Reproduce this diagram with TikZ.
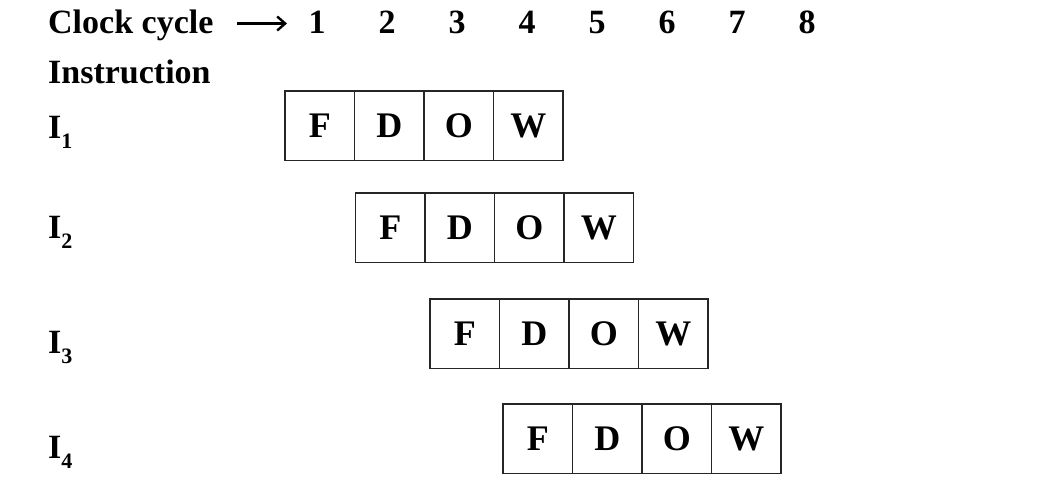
\documentclass[tikz,border=0pt]{standalone}
\usepackage{fontspec}
\setmainfont{Liberation Serif}
\usetikzlibrary{arrows.meta}
\begin{document}
\begin{tikzpicture}[x=1pt, y=-1pt,
head/.style={inner sep=0pt, font=\fontsize{34}{40}\selectfont\bfseries},
arr/.style={line width=2.6pt, -{Straight Barb[length=8pt, width=14pt, line width=2.4pt]}},
stage/.style={draw=black!85, line width=1.1pt, minimum width=69.5pt, minimum height=69.5pt,
  inner sep=0pt, font=\fontsize{36}{40}\selectfont\bfseries}]
\useasboundingbox (0,0) rectangle (1059,480);
\node[head, anchor=base west] (clock) at (48,33) {Clock cycle};
\coordinate (arrS) at (237,23.5);
\coordinate (arrE) at (287,23.5);
\draw[arr] (arrS) -- (arrE);
\foreach \n in {1,...,8}
    \node[head, anchor=base] (c\n) at ({317+70*(\n-1)},33) {\n};
\node[head, anchor=base west] (instr) at (48,83) {Instruction};
\foreach \r/\x/\y/\ly in {1/285/91/138, 2/355.5/193/238, 3/430/299/353, 4/503/404/458} {
    \node[head, anchor=base west] (i\r) at (48,\ly)
        {I\raisebox{-10pt}{\fontsize{22}{22}\selectfont\r}};
    \foreach \s [count=\j] in {F,D,O,W}
        \node[stage] (\s\r) at ({\x+69.5*\j-34.75},{\y+34.75}) {\s};
}
\end{tikzpicture}
\end{document}
